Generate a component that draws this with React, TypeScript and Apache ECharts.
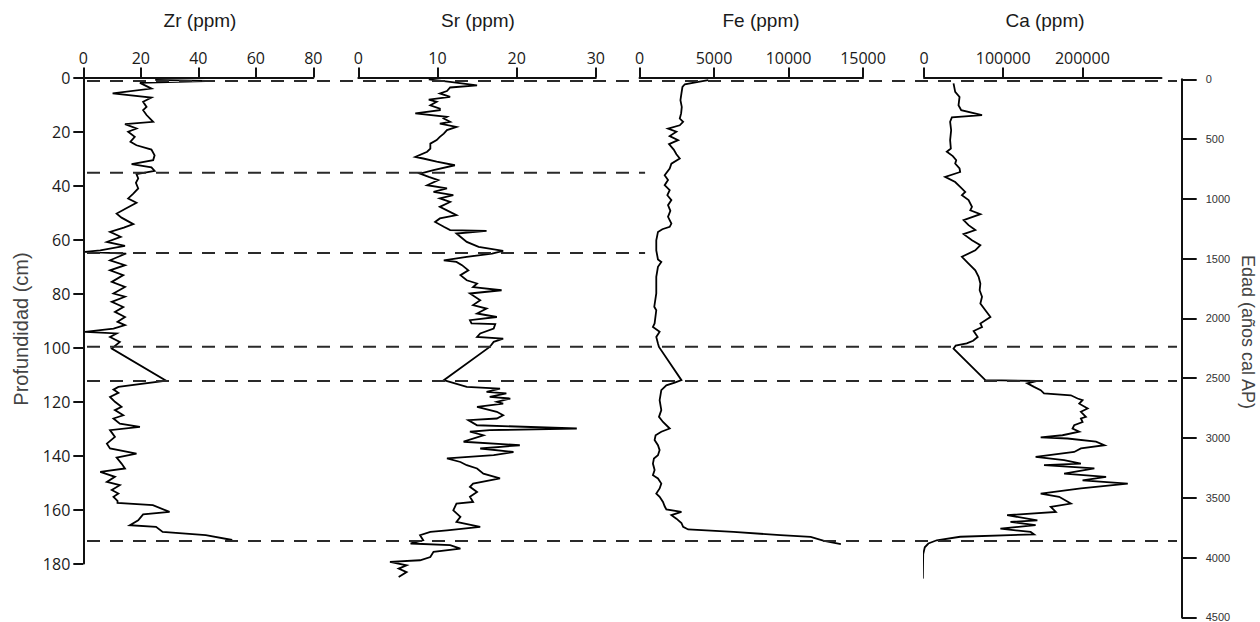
import React, { useEffect, useRef } from "react";
import * as echarts from "echarts";

// ---------- data (depth in cm, value in ppm) ----------
const zrDepth = [
  0.9, 1.3, 2.0, 4.1, 5.9, 7.4, 9.0, 10.9, 12.1, 13.9, 16.4,
  17.3, 18.9, 20.1, 22.0, 23.8, 25.1, 26.7, 28.8, 30.6, 32.1,
  33.3, 34.6, 35.8, 37.4, 39.0, 41.1, 43.0, 44.8, 46.4, 48.5,
  50.4, 51.9, 54.3, 55.6, 57.2, 59.0, 60.9, 62.4, 64.0, 64.6,
  65.2, 67.7, 69.5, 71.4, 73.2, 75.7, 77.6, 80.0, 81.2, 83.1,
  85.0, 86.8, 88.7, 90.5, 91.7, 93.0, 94.2, 94.8, 96.1, 97.9,
  100.4, 112.3, 114.6, 115.6, 116.8, 118.3, 120.1, 122.0, 123.2, 125.1,
  126.3, 128.2, 129.4, 130.6, 133.1, 135.6, 137.4, 139.3, 140.8, 143.0,
  144.8, 146.1, 147.9, 149.8, 151.0, 152.8, 154.1, 155.3, 156.8, 157.6,
  158.4, 160.9, 161.8, 164.0, 165.8, 166.4, 168.3, 169.5, 171.3,
];
const zrValue = [
  25.0, 42.6, 19.7, 23.7, 10.2, 23.7, 20.8, 22.0, 20.8, 22.0, 24.3,
  14.5, 18.5, 15.6, 17.9, 16.4, 18.5, 23.7, 24.8, 24.3, 16.8,
  23.7, 24.8, 18.5, 19.1, 18.3, 19.1, 17.4, 15.6, 18.5, 14.8,
  11.6, 13.3, 17.4, 14.1, 9.3, 13.0, 8.2, 14.5, 5.9, 0.6,
  14.9, 9.3, 14.5, 9.3, 13.9, 9.9, 14.5, 10.5, 14.5, 9.9,
  13.9, 11.0, 14.5, 11.9, 14.5, 10.5, 0.6, 11.6, 9.3, 12.7,
  9.9, 28.8, 12.2, 10.5, 12.2, 9.3, 11.0, 13.3, 11.0, 13.9,
  10.5, 12.7, 19.7, 9.3, 11.0, 8.2, 9.3, 18.5, 11.6, 13.3,
  14.5, 5.9, 11.0, 8.2, 12.7, 9.9, 12.2, 10.5, 11.9, 11.9,
  24.2, 30.0, 20.8, 19.1, 16.2, 25.3, 27.6, 42.6, 51.8,
];

const srDepth = [
  0.7, 1.6, 2.9, 3.7, 5.0, 5.9, 7.2, 8.2, 9.0, 10.3,
  11.5, 12.1, 13.3, 14.6, 15.2, 16.4, 17.1, 18.3, 19.5, 20.8,
  22.0, 23.2, 24.5, 26.3, 27.5, 29.4, 30.0, 31.2, 32.5, 34.3,
  35.6, 36.8, 38.0, 39.9, 41.1, 42.4, 43.6, 44.8, 46.1, 47.9,
  49.2, 51.0, 52.2, 53.5, 55.3, 56.5, 56.8, 57.8, 59.0, 60.9,
  62.7, 64.2, 65.2, 66.4, 67.7, 68.3, 69.5, 71.4, 73.2, 75.1,
  76.3, 77.6, 78.8, 80.0, 82.5, 84.3, 85.6, 87.4, 88.7, 89.9,
  91.1, 91.3, 93.0, 94.8, 96.1, 96.7, 97.9, 99.8, 112.1, 114.6,
  115.2, 116.4, 117.0, 118.3, 118.9, 120.1, 120.8, 122.0, 123.8, 125.1,
  126.3, 126.9, 128.8, 130.0, 130.6, 131.2, 132.5, 134.9, 136.2, 137.4,
  138.7, 139.9, 141.1, 142.4, 143.6, 144.8, 146.7, 148.5, 150.4, 151.6,
  153.5, 155.3, 157.2, 157.8, 160.3, 162.7, 164.6, 166.4, 167.7, 168.3,
  169.5, 171.4, 172.6, 173.2, 174.5, 175.7, 177.6, 178.8, 179.4, 180.7,
  181.9, 183.2, 185.0,
];
const srValue = [
  8.9, 11.6, 15.0, 11.6, 11.2, 10.3, 11.6, 8.9, 9.9, 9.1,
  10.3, 10.3, 7.2, 11.2, 10.8, 11.6, 10.3, 12.4, 11.2, 10.8,
  10.3, 9.9, 9.1, 9.1, 8.7, 7.2, 8.2, 9.9, 12.2, 9.5,
  7.8, 8.9, 10.1, 8.7, 11.2, 9.5, 12.0, 10.3, 11.6, 10.3,
  11.2, 12.4, 10.3, 9.7, 10.8, 11.6, 16.2, 12.4, 12.9, 13.7,
  15.2, 18.3, 16.9, 13.7, 10.8, 12.4, 13.1, 13.9, 12.9, 13.7,
  15.0, 14.5, 18.1, 14.1, 15.4, 14.5, 16.2, 15.0, 17.5, 14.1,
  14.3, 17.3, 17.1, 15.4, 15.0, 18.3, 17.1, 16.6, 10.8, 13.7,
  17.9, 16.2, 18.7, 16.6, 19.2, 17.5, 18.3, 15.0, 17.5, 18.3,
  17.5, 13.9, 15.0, 27.6, 16.6, 14.1, 15.8, 13.3, 20.4, 15.4,
  19.6, 17.1, 11.2, 12.9, 13.7, 15.0, 15.8, 17.9, 14.5, 14.1,
  15.0, 14.1, 14.5, 12.4, 12.0, 12.9, 12.4, 15.4, 11.2, 9.1,
  7.8, 8.2, 6.6, 11.6, 12.9, 9.5, 9.1, 7.8, 4.0, 6.1,
  5.1, 6.1, 5.1,
];

const feDepth = [
  1.0, 1.6, 2.5, 3.5, 5.9, 8.4, 10.9, 13.3, 15.2, 16.4,
  17.7, 18.9, 20.1, 21.7, 23.2, 24.7, 26.7, 28.4, 30.0, 31.9,
  33.7, 36.2, 38.0, 39.9, 41.7, 43.6, 45.4, 47.3, 49.4, 51.6,
  54.1, 55.3, 56.2, 57.2, 60.3, 64.0, 67.4, 68.3, 70.1, 73.8,
  80.0, 84.9, 86.2, 91.1, 92.4, 94.2, 96.1, 98.5, 99.8, 112.1,
  113.0, 114.0, 115.8, 119.5, 123.2, 125.7, 127.6, 130.0, 131.2, 132.5,
  134.3, 136.2, 138.0, 139.9, 141.1, 143.0, 145.4, 147.3, 148.5, 150.4,
  152.2, 154.1, 155.3, 157.2, 158.8, 160.0, 160.9, 162.1, 163.4, 165.0,
  166.4, 167.4, 168.3, 169.5, 170.1, 171.6, 172.8,
];
const feValue = [
  4617, 3941, 3041, 2883, 2815, 2748, 2838, 2793, 2703, 2928,
  2703, 1914, 2477, 2027, 2590, 1982, 2297, 2477, 2703, 2140,
  2027, 1689, 1914, 1689, 2027, 1869, 2140, 1914, 2072, 1914,
  2140, 2027, 1532, 1239, 1126, 1126, 1239, 1464, 1239, 1126,
  1126, 991, 1126, 1014, 901, 1351, 1126, 1239, 1306, 2815,
  2365, 1802, 1464, 1351, 1464, 1306, 1577, 2027, 1464, 1081,
  1014, 1239, 1351, 1239, 968, 901, 1014, 901, 1239, 1464,
  1351, 1126, 1351, 1577, 1689, 1802, 2815, 2140, 2477, 2815,
  2928, 3266, 6306, 9459, 11486, 12387, 13514,
];

const caDepth = [
  2.2, 5.3, 7.2, 10.3, 12.1, 13.9, 14.8, 16.4, 19.5, 23.2,
  26.3, 27.5, 29.1, 30.6, 31.9, 33.7, 35.0, 36.8, 38.7, 40.5,
  42.4, 43.6, 45.4, 47.9, 49.2, 50.6, 52.8, 54.7, 56.5, 58.0,
  60.3, 62.1, 64.0, 66.4, 68.9, 71.4, 73.8, 76.3, 78.8, 81.2,
  83.7, 86.2, 88.7, 91.1, 92.4, 93.9, 96.1, 97.5, 98.5, 99.3,
  100.4, 112.1, 112.4, 113.3, 114.6, 115.8, 117.0, 117.7, 118.9, 119.5,
  120.8, 122.6, 123.8, 125.7, 126.3, 127.6, 128.8, 130.0, 131.2, 132.5,
  133.3, 133.7, 134.9, 136.2, 137.4, 138.7, 140.5, 141.7, 143.0, 143.6,
  144.8, 146.7, 147.9, 149.2, 150.4, 152.2, 154.1, 155.3, 157.8, 159.0,
  160.9, 162.1, 164.0, 164.6, 165.8, 167.1, 168.3, 169.2, 170.1, 171.4,
  172.6, 174.0, 176.5, 185.6,
];
const caValue = [
  37300, 39400, 44900, 43600, 47000, 73300, 35200, 33000, 34300, 33000,
  33900, 28800, 36400, 40700, 39400, 44900, 45700, 26700, 39400, 45700,
  52100, 47900, 56300, 60600, 58500, 71200, 50000, 56300, 64800, 50000,
  60600, 71200, 64800, 47900, 56300, 64800, 69000, 71200, 70300, 73300,
  71200, 77500, 83900, 71200, 73300, 62700, 67800, 62000, 54000, 40000,
  37300, 77500, 143200, 130500, 139000, 147400, 151600, 185500, 194000, 200300,
  196100, 206700, 198200, 204500, 198200, 200300, 189700, 187600, 196100, 174900,
  147400, 181300, 217300, 227900, 198200, 189700, 141000, 177000, 198200, 151600,
  215200, 177000, 230000, 200300, 257400, 198200, 147400, 170700, 185500, 160100,
  166500, 105000, 143200, 109200, 141000, 96500, 134700, 139000, 45700, 16100,
  5500, 1000, -1000, -1500,
];

// boundary (dashed) lines: depth and how far across the panels they run (fraction)
const boundaryDepth = [1.3, 35.3, 65.0, 99.7, 112.4, 171.7];
const boundaryReach = [1, 0.512, 0.512, 1, 1, 1];

// axis ranges / ticks
const depthMax = 180;
const depthStep = 20;
const ageMax = 4500;
const ageStep = 500;
const zrTicks = [0, 20, 40, 60, 80];
const srTicks = [0, 10, 20, 30];
const feTicks = [0, 5000, 10000, 15000];
const caTicks = [0, 100000, 200000];
const caMax = 300000;

const titles = ["Zr (ppm)", "Sr (ppm)", "Fe (ppm)", "Ca (ppm)"];

const zip = (d: number[], v: number[]) => d.map((dd, i) => [v[i], dd]);

const LABEL_FONT = "'Open Sans', 'DejaVu Sans', sans-serif";
const ARIAL = "'Liberation Sans', Arial, sans-serif";

export default function App() {
  const ref = useRef<HTMLDivElement>(null);

  useEffect(() => {
    if (!ref.current) return;
    const chart = echarts.init(ref.current, undefined, { renderer: "svg" });

    const top = 77.5;
    const height = 486;
    const panels = [
      { left: 83.3, width: 230, max: 80, ticks: zrTicks, data: zip(zrDepth, zrValue) },
      { left: 358.3, width: 237.5, max: 30, ticks: srTicks, data: zip(srDepth, srValue) },
      { left: 639.5, width: 223.5, max: 15000, ticks: feTicks, data: zip(feDepth, feValue) },
      { left: 924, width: 237.5, max: caMax, ticks: caTicks, data: zip(caDepth, caValue) },
    ];

    const grids: any[] = panels.map((p) => ({
      left: p.left,
      top,
      width: p.width,
      height,
      outerBoundsMode: "none",
    }));
    grids.push({ left: 87, top, width: 1090, height, outerBoundsMode: "none" });
    grids.push({ left: 1180.7, top: 79.3, width: 1, height: 538, outerBoundsMode: "none" });

    const axisLine = { show: true, lineStyle: { color: "#111", width: 2 } };

    const xAxes: any[] = panels.map((p, i) => ({
      type: "value",
      gridIndex: i,
      position: "top",
      min: 0,
      max: p.max,
      interval: p.ticks[1] - p.ticks[0],
      axisLine: { ...axisLine, onZero: false },
      axisTick: {
        show: true,
        inside: false,
        length: 10,
        lineStyle: { color: "#111", width: 2 },
        customValues: p.ticks,
      },
      axisLabel: {
        show: true,
        margin: 12,
        color: "#1a1a1a",
        fontSize: 16,
        fontFamily: LABEL_FONT,
        customValues: p.ticks,
        formatter: (v: number) => (p.ticks.indexOf(v) >= 0 ? String(v) : ""),
      },
      splitLine: { show: false },
    }));
    xAxes.push({ type: "value", gridIndex: 4, min: 0, max: 1, show: false });
    xAxes.push({ type: "value", gridIndex: 5, min: 0, max: 1, show: false });

    const yAxes: any[] = panels.map((p, i) => ({
      type: "value",
      gridIndex: i,
      inverse: true,
      min: 0,
      max: depthMax,
      interval: depthStep,
      show: i === 0,
      position: "left",
      axisLine: { ...axisLine, onZero: false },
      axisTick: { show: true, inside: false, length: 10, lineStyle: { color: "#111", width: 2 } },
      axisLabel: {
        show: true,
        margin: 13,
        color: "#1a1a1a",
        fontSize: 16,
        fontFamily: LABEL_FONT,
        formatter: (v: number) => String(v),
      },
      splitLine: { show: false },
    }));
    yAxes.push({ type: "value", gridIndex: 4, inverse: true, min: 0, max: depthMax, show: false });
    yAxes.push({
      type: "value",
      gridIndex: 5,
      inverse: true,
      min: 0,
      max: ageMax,
      interval: ageStep,
      position: "right",
      axisLine: { ...axisLine, onZero: false },
      axisTick: { show: true, inside: false, length: 15, lineStyle: { color: "#111", width: 2 } },
      axisLabel: {
        show: true,
        margin: 24,
        color: "#333",
        fontSize: 11,
        fontFamily: ARIAL,
        formatter: (v: number) => String(v),
      },
      splitLine: { show: false },
    });

    const series: any[] = panels.map((p, i) => ({
      type: "line",
      xAxisIndex: i,
      yAxisIndex: i,
      data: p.data,
      showSymbol: false,
      symbol: "none",
      clip: false,
      silent: true,
      lineStyle: { color: "#000", width: 1.8, join: "miter" },
    }));
    boundaryDepth.forEach((d, i) => {
      series.push({
        type: "line",
        xAxisIndex: 4,
        yAxisIndex: 4,
        data: [
          [0, d],
          [boundaryReach[i], d],
        ],
        symbol: "none",
        clip: false,
        silent: true,
        lineStyle: { color: "#2a2a2a", width: 2, type: [13, 10] },
      });
    });

    const titleCenters = [200, 478, 761, 1045];
    const graphic: any[] = titles.map((t, i) => ({
      type: "text",
      x: titleCenters[i],
      y: 20,
      style: {
        text: t,
        align: "center",
        verticalAlign: "middle",
        fill: "#1a1a1a",
        fontSize: 19,
        fontFamily: ARIAL,
      },
    }));
    graphic.push({
      type: "text",
      x: 21,
      y: 329,
      rotation: Math.PI / 2,
      style: {
        text: "Profundidad (cm)",
        align: "center",
        verticalAlign: "middle",
        fill: "#444",
        fontSize: 20,
        fontFamily: ARIAL,
      },
    });
    graphic.push({
      type: "text",
      x: 1248,
      y: 332,
      rotation: -Math.PI / 2,
      style: {
        text: "Edad (años cal AP)",
        align: "center",
        verticalAlign: "middle",
        fill: "#444",
        fontSize: 18,
        fontFamily: ARIAL,
      },
    });

    chart.setOption({
      animation: false,
      backgroundColor: "#fff",
      grid: grids,
      xAxis: xAxes,
      yAxis: yAxes,
      series,
      graphic,
    });

    return () => {
      chart.dispose();
    };
  }, []);

  return (
    <div
      ref={ref}
      style={{ position: "absolute", left: 0, top: 0, width: 1260, height: 622 }}
    />
  );
}
